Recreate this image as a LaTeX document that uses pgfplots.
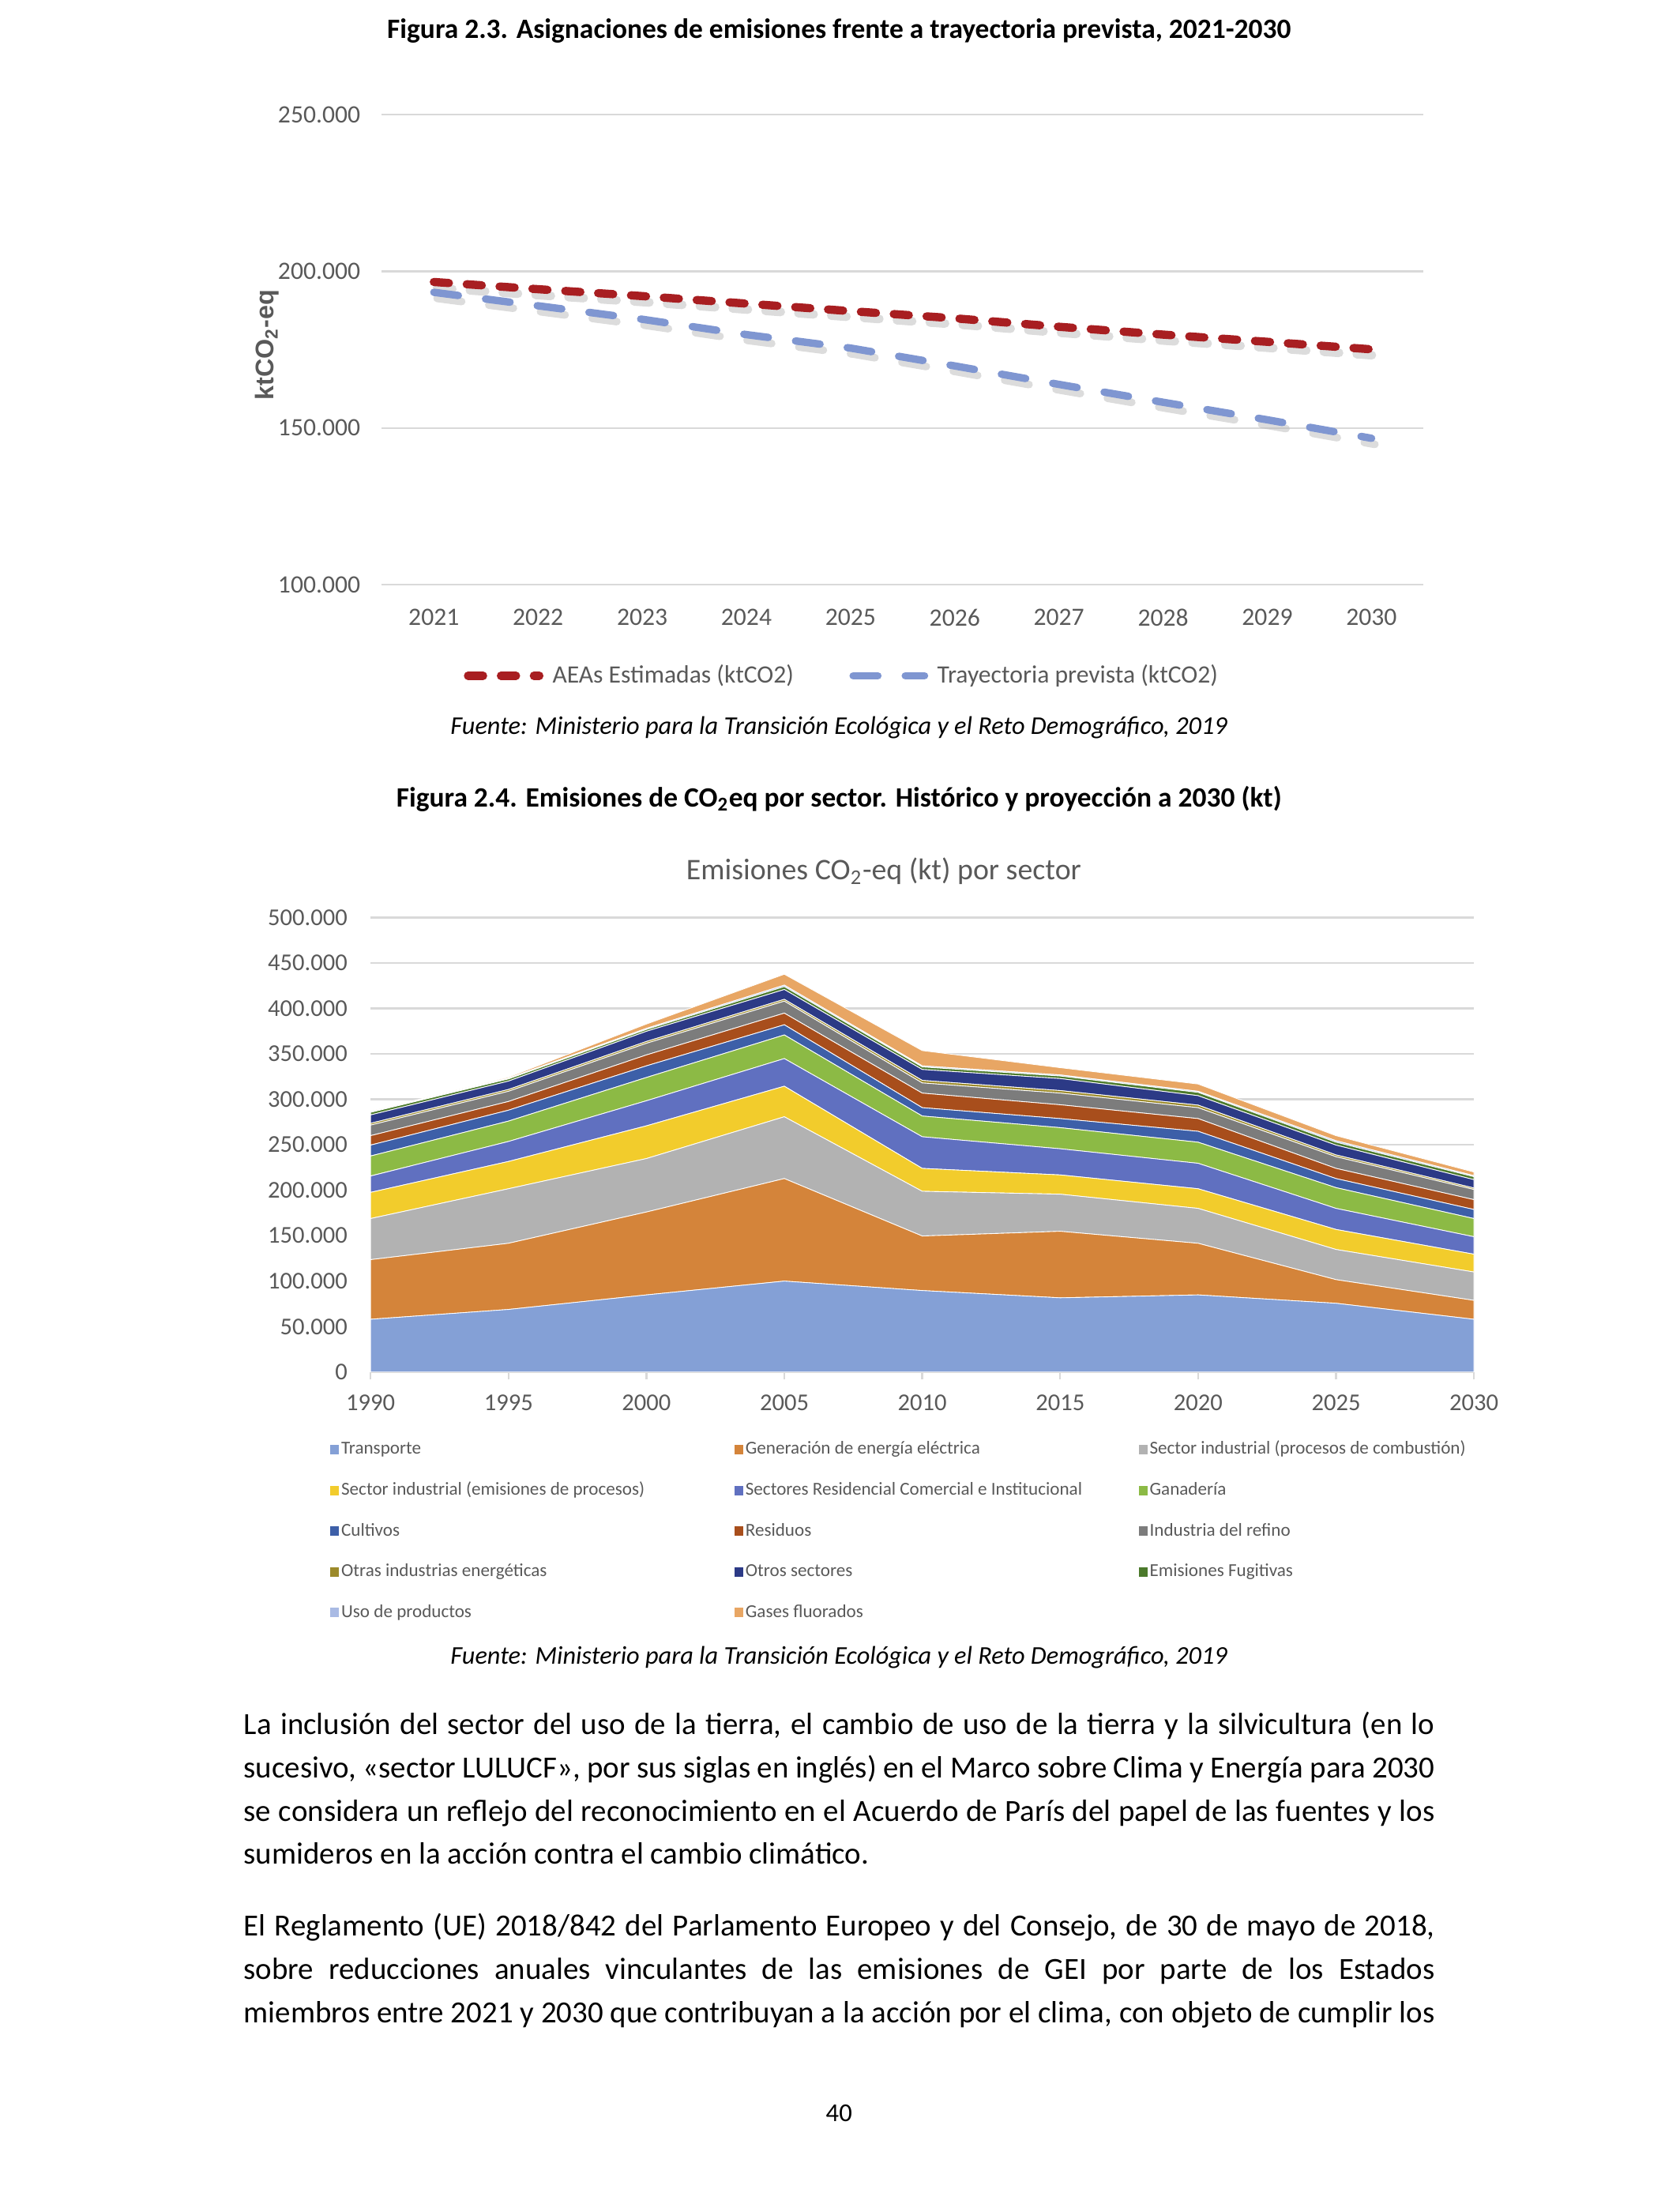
\documentclass[border=0pt]{standalone}
\usepackage{fontspec}
\setmainfont{Carlito}
\newfontfamily\arialf{Liberation Sans}
\usepackage{pgfplots}
\pgfplotsset{compat=1.18}

\definecolor{txtgray}{HTML}{595959}
\definecolor{gridgray}{HTML}{D9D9D9}
\definecolor{aeared}{HTML}{A81E21}
\definecolor{trayblue}{HTML}{7F96D1}
\definecolor{cTrans}{HTML}{84A0D6}
\definecolor{cElec}{HTML}{D4843A}
\definecolor{cComb}{HTML}{B2B2B2}
\definecolor{cProc}{HTML}{F2CC2C}
\definecolor{cResid}{HTML}{6070C0}
\definecolor{cGana}{HTML}{8CBA45}
\definecolor{cCult}{HTML}{3D5FA8}
\definecolor{cResi}{HTML}{A84E1C}
\definecolor{cRefi}{HTML}{7C7C7C}
\definecolor{cOtrE}{HTML}{9C8A2A}
\definecolor{cOtrS}{HTML}{2C3A86}
\definecolor{cFugi}{HTML}{4C7A2C}
\definecolor{cUso}{HTML}{A9BAE4}
\definecolor{cGases}{HTML}{E8A664}

\newcommand{\lentry}[1]{\makebox[142.5pt][l]{#1}}
\newcommand{\jl}[1]{\hbox to 434pt{#1}}

\begin{document}
\begin{tikzpicture}[x=0.5096pt,y=0.5096pt]
\useasboundingbox (0,0) rectangle (1201,1568);

% captions
\node[font=\fontsize{10.2}{12}\selectfont\bfseries] at (600,1546) {Figura 2.3. Asignaciones de emisiones frente a trayectoria prevista, 2021-2030};
\node[font=\fontsize{9.3}{11}\selectfont\itshape] at (600,1048) {Fuente: Ministerio para la Transición Ecológica y el Reto Demográfico, 2019};
\node[font=\fontsize{10.2}{12}\selectfont\bfseries] at (600,997) {Figura 2.4. Emisiones de CO\textsubscript{2}eq por sector. Histórico y proyección a 2030 (kt)};
\node[font=\fontsize{10.9}{12}\selectfont, text=txtgray] at (632,945) {Emisiones CO\textsubscript{2}-eq (kt) por sector};
\node[font=\fontsize{9.3}{11}\selectfont\itshape] at (600,383) {Fuente: Ministerio para la Transición Ecológica y el Reto Demográfico, 2019};

% chart 1 (at = 273,1150 in page units of 0.5096pt)
\begin{axis}[
    at={(139.12pt,586.04pt)}, anchor=south west,
    width=379.7pt, height=171.2pt, scale only axis,
    xmin=2020.5, xmax=2030.5, ymin=100000, ymax=250000,
    xtick={2021,2022,...,2030},
    ytick={100000,150000,200000,250000},
    scaled y ticks=false,
    /pgf/number format/assume math mode=true,
    xticklabel style={/pgf/number format/1000 sep={}, yshift=-5.3pt},
    yticklabel style={/pgf/number format/fixed, /pgf/number format/1000 sep={.}, xshift=-4.3pt},
    tick label style={font=\fontsize{9.1}{10}\selectfont, text=txtgray},
    axis line style={draw=none}, major tick length=0pt,
    ymajorgrids, grid style={gridgray, line width=0.7pt},
    ylabel={\arialf\bfseries ktCO\textsubscript{2}-eq},
    every axis y label/.style={at={(axis description cs:-0.11,0.51)}, rotate=90, anchor=center, font=\fontsize{9.3}{10}\selectfont, text=txtgray},
    legend columns=2,
    legend style={at={(axis description cs:0.445,-0.194)}, anchor=center, draw=none, fill=none,
        font=\fontsize{9.1}{10}\selectfont, text=txtgray,
        nodes={inner sep=3.3pt},
        /tikz/every even column/.append style={column sep=17pt}},
    legend image code/.code={\draw[#1] (0pt,0pt) -- (26pt,0pt);},
]
\addplot[forget plot, black!30, opacity=0.45, line width=3.2pt, line cap=round, dash pattern=on 5.5pt off 6.5pt, xshift=1.2pt, yshift=-2.2pt]
    coordinates {(2021,196600) (2022,194300) (2023,192100) (2024,189700) (2025,187300) (2026,185000) (2027,182300) (2028,179800) (2029,177500) (2030,175100)};
\addplot[forget plot, black!30, opacity=0.45, line width=2.8pt, line cap=round, dash pattern=on 9pt off 10pt, xshift=1.2pt, yshift=-2.2pt]
    coordinates {(2021,193300) (2022,189000) (2023,184700) (2024,179800) (2025,175500) (2026,169800) (2027,163900) (2028,158200) (2029,152600) (2030,146700)};
\addplot[aeared, line width=3pt, line cap=round, dash pattern=on 5.5pt off 6.5pt]
    coordinates {(2021,196600) (2022,194300) (2023,192100) (2024,189700) (2025,187300) (2026,185000) (2027,182300) (2028,179800) (2029,177500) (2030,175100)};
\addlegendentry{AEAs Estimadas (ktCO2)}
\addplot[trayblue, line width=2.7pt, line cap=round, dash pattern=on 9pt off 10pt]
    coordinates {(2021,193300) (2022,189000) (2023,184700) (2024,179800) (2025,175500) (2026,169800) (2027,163900) (2028,158200) (2029,152600) (2030,146700)};
\addlegendentry{Trayectoria prevista (ktCO2)}
\end{axis}

% chart 2 (at = 265,587 in page units)
\begin{axis}[
    at={(135.04pt,299.14pt)}, anchor=south west,
    width=402.1pt, height=165.6pt, scale only axis,
    xmin=1990, xmax=2030, ymin=0, ymax=500000,
    xtick={1990,1995,...,2030},
    ytick={0,50000,...,500000},
    scaled y ticks=false,
    stack plots=y,
    /pgf/number format/assume math mode=true,
    xticklabel style={/pgf/number format/1000 sep={}, yshift=-2pt},
    yticklabel style={/pgf/number format/fixed, /pgf/number format/1000 sep={.}, xshift=-2.1pt},
    tick label style={font=\fontsize{8.8}{10}\selectfont, text=txtgray},
    axis x line*=bottom, axis y line*=left,
    x axis line style={draw=gridgray, line width=0.7pt, -},
    y axis line style={draw=none},
    xtick style={draw=gridgray, line width=0.7pt},
    ytick style={draw=none},
    tick align=outside, major tick length=2.8pt,
    ymajorgrids, grid style={gridgray, line width=0.7pt},
    legend columns=3,
    legend cell align=left,
    legend style={at={(axis description cs:-0.0444,-0.134)}, anchor=north west, draw=none, fill=none,
        font=\fontsize{6.65}{7}\selectfont, text=txtgray,
        nodes={inner sep=0.8pt, text height=4.8pt, text depth=1.4pt},
        row sep=7.05pt},
    legend image code/.code={\fill[#1,draw=none] (0pt,-1.7pt) rectangle (3.2pt,1.7pt);},
    every axis plot/.append style={draw=white, line width=0.25pt},
]
\addplot[fill=cTrans] coordinates {(1990,58000) (1995,68800) (2000,84800) (2005,100000) (2010,89600) (2015,81600) (2020,84800) (2025,75600) (2030,58000)} \closedcycle;
\addlegendentry{\lentry{Transporte}}
\addplot[fill=cElec] coordinates {(1990,65600) (1995,72800) (2000,91200) (2005,112800) (2010,60000) (2015,73200) (2020,56800) (2025,26000) (2030,20800)} \closedcycle;
\addlegendentry{\lentry{Generación de energía eléctrica}}
\addplot[fill=cComb] coordinates {(1990,45200) (1995,60000) (2000,58800) (2005,68000) (2010,49200) (2015,40800) (2020,38400) (2025,33200) (2030,31200)} \closedcycle;
\addlegendentry{\lentry{Sector industrial (procesos de combustión)}}
\addplot[fill=cProc] coordinates {(1990,28800) (1995,30000) (2000,36000) (2005,33600) (2010,25200) (2015,21200) (2020,21600) (2025,22000) (2030,19600)} \closedcycle;
\addlegendentry{\lentry{Sector industrial (emisiones de procesos)}}
\addplot[fill=cResid] coordinates {(1990,18000) (1995,22000) (2000,27600) (2005,30400) (2010,34800) (2015,28800) (2020,28000) (2025,23200) (2030,19200)} \closedcycle;
\addlegendentry{\lentry{Sectores Residencial Comercial e Institucional}}
\addplot[fill=cGana] coordinates {(1990,22000) (1995,22400) (2000,25600) (2005,26000) (2010,22800) (2015,23200) (2020,23200) (2025,22800) (2030,20000)} \closedcycle;
\addlegendentry{\lentry{Ganadería}}
\addplot[fill=cCult] coordinates {(1990,12000) (1995,12000) (2000,12800) (2005,11200) (2010,9200) (2015,10000) (2020,12000) (2025,10000) (2030,10000)} \closedcycle;
\addlegendentry{\lentry{Cultivos}}
\addplot[fill=cResi] coordinates {(1990,10400) (1995,9600) (2000,12000) (2005,12800) (2010,16000) (2015,15200) (2020,14000) (2025,11200) (2030,10800)} \closedcycle;
\addlegendentry{\lentry{Residuos}}
\addplot[fill=cRefi] coordinates {(1990,11600) (1995,11200) (2000,12800) (2005,13200) (2010,11200) (2015,12800) (2020,12000) (2025,12800) (2030,11200)} \closedcycle;
\addlegendentry{\lentry{Industria del refino}}
\addplot[fill=cOtrE] coordinates {(1990,2000) (1995,2000) (2000,2000) (2005,2000) (2010,2800) (2015,2800) (2020,2800) (2025,2000) (2030,1600)} \closedcycle;
\addlegendentry{\lentry{Otras industrias energéticas}}
\addplot[fill=cOtrS] coordinates {(1990,9200) (1995,9200) (2000,11200) (2005,10800) (2010,12000) (2015,13200) (2020,10400) (2025,10800) (2030,9200)} \closedcycle;
\addlegendentry{\lentry{Otros sectores}}
\addplot[fill=cFugi] coordinates {(1990,2800) (1995,2400) (2000,2000) (2005,3200) (2010,2800) (2015,2800) (2020,3600) (2025,3200) (2030,3200)} \closedcycle;
\addlegendentry{\lentry{Emisiones Fugitivas}}
\addplot[fill=cUso] coordinates {(1990,800) (1995,800) (2000,1200) (2005,1600) (2010,1200) (2015,1200) (2020,1200) (2025,1600) (2030,1200)} \closedcycle;
\addlegendentry{\lentry{Uso de productos}}
\addplot[fill=cGases] coordinates {(1990,400) (1995,1200) (2000,4800) (2005,12000) (2010,16800) (2015,8000) (2020,8000) (2025,5600) (2030,4000)} \closedcycle;
\addlegendentry{\lentry{Gases fluorados}}
\end{axis}

% body text
\node[anchor=base west, inner sep=0pt] at (174,328) {\parbox[t]{434pt}{\fontsize{11.2}{15.8}\selectfont
\jl{La inclusión del sector del uso de la tierra, el cambio de uso de la tierra y la silvicultura (en lo}
\jl{sucesivo, «sector LULUCF», por sus siglas en inglés) en el Marco sobre Clima y Energía para 2030}
\jl{se considera un reflejo del reconocimiento en el Acuerdo de París del papel de las fuentes y los}
\hbox{sumideros en la acción contra el cambio climático.}}};
\node[anchor=base west, inner sep=0pt] at (174,184) {\parbox[t]{434pt}{\fontsize{11.2}{15.8}\selectfont
\jl{El Reglamento (UE) 2018/842 del Parlamento Europeo y del Consejo, de 30 de mayo de 2018,}
\jl{sobre reducciones anuales vinculantes de las emisiones de GEI por parte de los Estados}
\jl{miembros entre 2021 y 2030 que contribuyan a la acción por el clima, con objeto de cumplir los}}};
\node[font=\fontsize{9.4}{11}\selectfont, anchor=base] at (600,51) {40};
\end{tikzpicture}
\end{document}
